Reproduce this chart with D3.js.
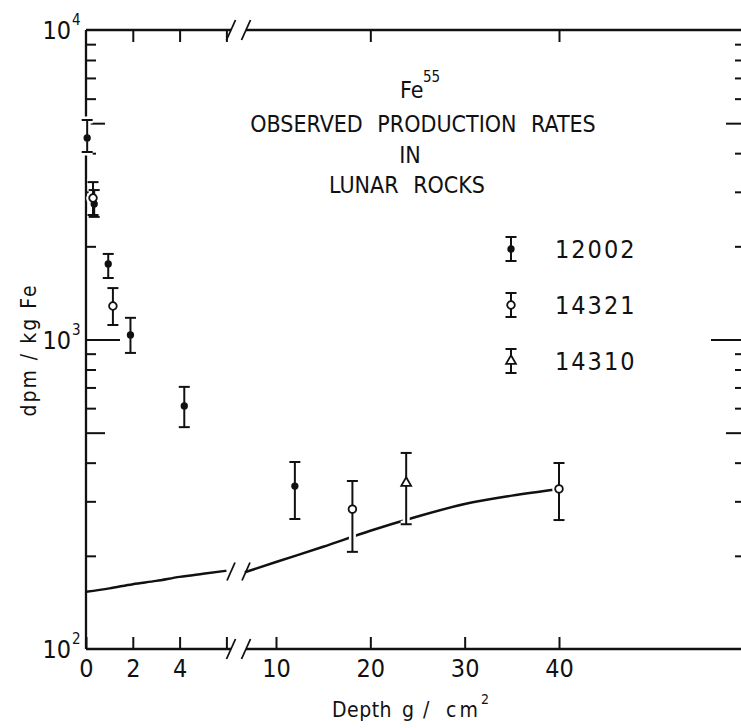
<!DOCTYPE html>
<html>
<head>
<meta charset="utf-8">
<script src="https://cdn.jsdelivr.net/npm/d3@7"></script>
<style>
  body { margin: 0; background: #fff; }
  svg text { font-family: "Liberation Sans Narrow", "DejaVu Sans Condensed", "Liberation Sans", sans-serif; fill: #111; }
</style>
</head>
<body>
<div id="chart"></div>
<script>
// ---- data ----
const rockNames = ["12002", "14321", "14310"];

// depth in g/cm2, Fe55 in dpm/kg Fe, with error bar ends
const rock12002 = [
  { depth: 0.05, value: 4480, lo: 4035, hi: 5120 },
  { depth: 0.35, value: 2740, lo: 2490, hi: 3040 },
  { depth: 0.95, value: 1755, lo: 1580, hi: 1890 },
  { depth: 1.9,  value: 1035, lo: 905,  hi: 1175 },
  { depth: 4.2,  value: 610,  lo: 521,  hi: 703 },
  { depth: 12,   value: 336,  lo: 263,  hi: 402 }
];
const rock14321 = [
  { depth: 0.3,  value: 2865, lo: 2525, hi: 3225 },
  { depth: 1.15, value: 1283, lo: 1114, hi: 1466 },
  { depth: 18.1, value: 283,  lo: 206,  hi: 349 },
  { depth: 40,   value: 329,  lo: 261,  hi: 399 }
];
const rock14310 = [
  { depth: 23.8, value: 344, lo: 253, hi: 430 }
];

// calculated production curve, shallow part and deep part (broken axis)
const calcShallow = [[0, 153], [1, 157], [2, 162], [3, 166], [4, 171], [5, 175], [6, 179]];
const calcDeep = [[6.7, 177], [10, 191], [15, 214], [20, 241], [25, 268], [30, 294], [35, 313], [40, 329]];

const shallowTicks = [0, 2, 4, 6];
const deepTicks = [10, 20, 30, 40];
const topShallowTicks = [2, 4, 6];
const topDeepTicks = [20, 40];
const minorTicks = [200, 300, 400, 600, 700, 800, 900, 2000, 3000, 4000, 6000, 7000, 8000, 9000];
const midTicks = [500, 5000];
const decadeTicks = [1000];
const decadeLabels = [100, 1000, 10000];

const titleLines = ["OBSERVED PRODUCTION RATES", "IN", "LUNAR ROCKS"];

// ---- layout ----
const width = 741;
const height = 728;
const svg = d3.select("#chart").append("svg").attr("width", width).attr("height", height);

const xShallow = d3.scaleLinear().domain([0, 6]).range([86, 226.4]);
const xDeep = d3.scaleLinear().domain([10, 40]).range([276, 559]);
const xDepth = d => d <= 6 ? xShallow(d) : xDeep(d);
const y = d3.scaleLog().domain([100, 10000]).range([649, 30]);

const ink = "#111";
const breaks = [231, 246];

// frame lines with the axis break
const frame = svg.append("g").attr("stroke", ink).attr("stroke-width", 2.3).attr("fill", "none");
frame.append("line").attr("x1", 86).attr("x2", 86).attr("y1", 30).attr("y2", 649);
[30, 649].forEach(yy => {
  frame.append("line").attr("x1", 86).attr("x2", breaks[0]).attr("y1", yy).attr("y2", yy);
  frame.append("line").attr("x1", breaks[1]).attr("x2", 745).attr("y1", yy).attr("y2", yy);
  breaks.forEach(bx => {
    frame.append("line").attr("x1", bx - 4.5).attr("x2", bx + 4.5)
      .attr("y1", yy + 10).attr("y2", yy - 10).attr("stroke-width", 1.8);
  });
});

function styleAxis(g, size) {
  g.select(".domain").remove();
  g.selectAll(".tick line").attr("stroke", ink).attr("stroke-width", 2);
  g.selectAll(".tick text").attr("font-size", size).attr("fill", ink);
}

// bottom ticks (pointing up) and labels
svg.append("g").attr("transform", "translate(0,649)")
  .call(d3.axisBottom(xShallow).tickValues(shallowTicks).tickSize(-12).tickPadding(10)
    .tickFormat(d => d === 6 ? "" : d))
  .call(g => styleAxis(g, 25));
svg.append("g").attr("transform", "translate(0,649)")
  .call(d3.axisBottom(xDeep).tickValues(deepTicks).tickSize(-12).tickPadding(10))
  .call(g => styleAxis(g, 25));

// top ticks (pointing down)
svg.append("g").attr("transform", "translate(0,30)")
  .call(d3.axisTop(xShallow).tickValues(topShallowTicks).tickSize(-12).tickFormat(""))
  .call(g => styleAxis(g, 0));
svg.append("g").attr("transform", "translate(0,30)")
  .call(d3.axisTop(xDeep).tickValues(topDeepTicks).tickSize(-12).tickFormat(""))
  .call(g => styleAxis(g, 0));

// left and right log ticks
[[minorTicks, 10], [midTicks, 19], [decadeTicks, 34]].forEach(([vals, len]) => {
  svg.append("g").attr("transform", "translate(86,0)")
    .call(d3.axisRight(y).tickValues(vals).tickSize(len).tickFormat(""))
    .call(g => styleAxis(g, 0));
  svg.append("g").attr("transform", "translate(745,0)")
    .call(d3.axisLeft(y).tickValues(vals).tickSize(len).tickFormat(""))
    .call(g => styleAxis(g, 0));
});

// decade labels 10^n
decadeLabels.forEach(v => {
  svg.append("text").attr("x", 71).attr("y", y(v) + 9)
    .attr("text-anchor", "end").attr("font-size", 25).text("10");
  svg.append("text").attr("x", 72).attr("y", y(v) - 5)
    .attr("font-size", 15).text(Math.round(Math.log10(v)));
});

// axis titles
svg.append("text")
  .attr("transform", "translate(36,350) rotate(-90)")
  .attr("text-anchor", "middle").attr("font-size", 21).attr("letter-spacing", 2)
  .text("dpm / kg Fe");
svg.append("text").attr("x", 332).attr("y", 717).attr("font-size", 21)
  .attr("letter-spacing", 0.5).text("Depth");
svg.append("text").attr("x", 402).attr("y", 717).attr("font-size", 21).text("g");
svg.append("text").attr("x", 423).attr("y", 717).attr("font-size", 21).text("/");
svg.append("text").attr("x", 446).attr("y", 717).attr("font-size", 21)
  .attr("letter-spacing", 3).text("cm");
svg.append("text").attr("x", 481).attr("y", 704).attr("font-size", 14).text("2");

// chart title
svg.append("text").attr("x", 400).attr("y", 98).attr("font-size", 23).text("Fe");
svg.append("text").attr("x", 423).attr("y", 82).attr("font-size", 15).text("55");
const titleX = [423, 410, 407];
const titleY = [132, 163, 193];
titleLines.forEach((t, i) => {
  svg.append("text").attr("x", titleX[i]).attr("y", titleY[i])
    .attr("text-anchor", "middle").attr("font-size", 23).attr("word-spacing", 8)
    .text(t);
});

// calculated curve
const lineShallow = d3.line().x(d => xShallow(d[0])).y(d => y(d[1])).curve(d3.curveMonotoneX);
const lineDeep = d3.line().x(d => xDeep(d[0])).y(d => y(d[1])).curve(d3.curveMonotoneX);
svg.append("path").datum(calcShallow).attr("d", lineShallow)
  .attr("fill", "none").attr("stroke", ink).attr("stroke-width", 2.5);
svg.append("path").datum(calcDeep).attr("d", lineDeep)
  .attr("fill", "none").attr("stroke", ink).attr("stroke-width", 2.5);
// break marks on the curve
const curveBreakY = (y(calcShallow[calcShallow.length - 1][1]) + y(calcDeep[0][1])) / 2;
breaks.forEach(bx => {
  svg.append("line").attr("x1", bx - 4).attr("x2", bx + 4)
    .attr("y1", curveBreakY + 9).attr("y2", curveBreakY - 9)
    .attr("stroke", ink).attr("stroke-width", 1.8);
});

// markers
const symbols = {
  "12002": { type: d3.symbolCircle, size: 24, fill: ink },
  "14321": { type: d3.symbolCircle, size: 46, fill: "#fff" },
  "14310": { type: d3.symbolTriangle, size: 42, fill: "#fff" }
};

function errorBar(g, x, yc, yTop, yBot, name, halo) {
  const s = symbols[name];
  const stroke = halo ? "#fff" : ink;
  const sw = halo ? 7 : 2;
  const cap = 5.5;
  g.append("line").attr("x1", x).attr("x2", x).attr("y1", yTop).attr("y2", yBot)
    .attr("stroke", stroke).attr("stroke-width", sw);
  [yTop, yBot].forEach(yy => {
    g.append("line").attr("x1", x - cap).attr("x2", x + cap).attr("y1", yy).attr("y2", yy)
      .attr("stroke", stroke).attr("stroke-width", sw);
  });
  g.append("path").attr("transform", `translate(${x},${yc})`)
    .attr("d", d3.symbol().type(s.type).size(s.size)())
    .attr("fill", halo ? "#fff" : s.fill).attr("stroke", stroke)
    .attr("stroke-width", halo ? 6 : 1.8);
}

const rocks = [[rock12002, "12002"], [rock14321, "14321"], [rock14310, "14310"]];
const haloG = svg.append("g");
const barG = svg.append("g");
rocks.forEach(([data, name]) => {
  data.forEach(d => {
    const x = xDepth(d.depth);
    errorBar(haloG, x, y(d.value), y(d.hi), y(d.lo), name, true);
    errorBar(barG, x, y(d.value), y(d.hi), y(d.lo), name, false);
  });
});

// legend
rockNames.forEach((name, i) => {
  const cy = 249 + 56 * i;
  errorBar(svg.append("g"), 511, cy, cy - 12, cy + 12, name, false);
  svg.append("text").attr("x", 555).attr("y", cy + 9)
    .attr("font-size", 25).attr("letter-spacing", 2).text(name);
});
</script>
</body>
</html>
